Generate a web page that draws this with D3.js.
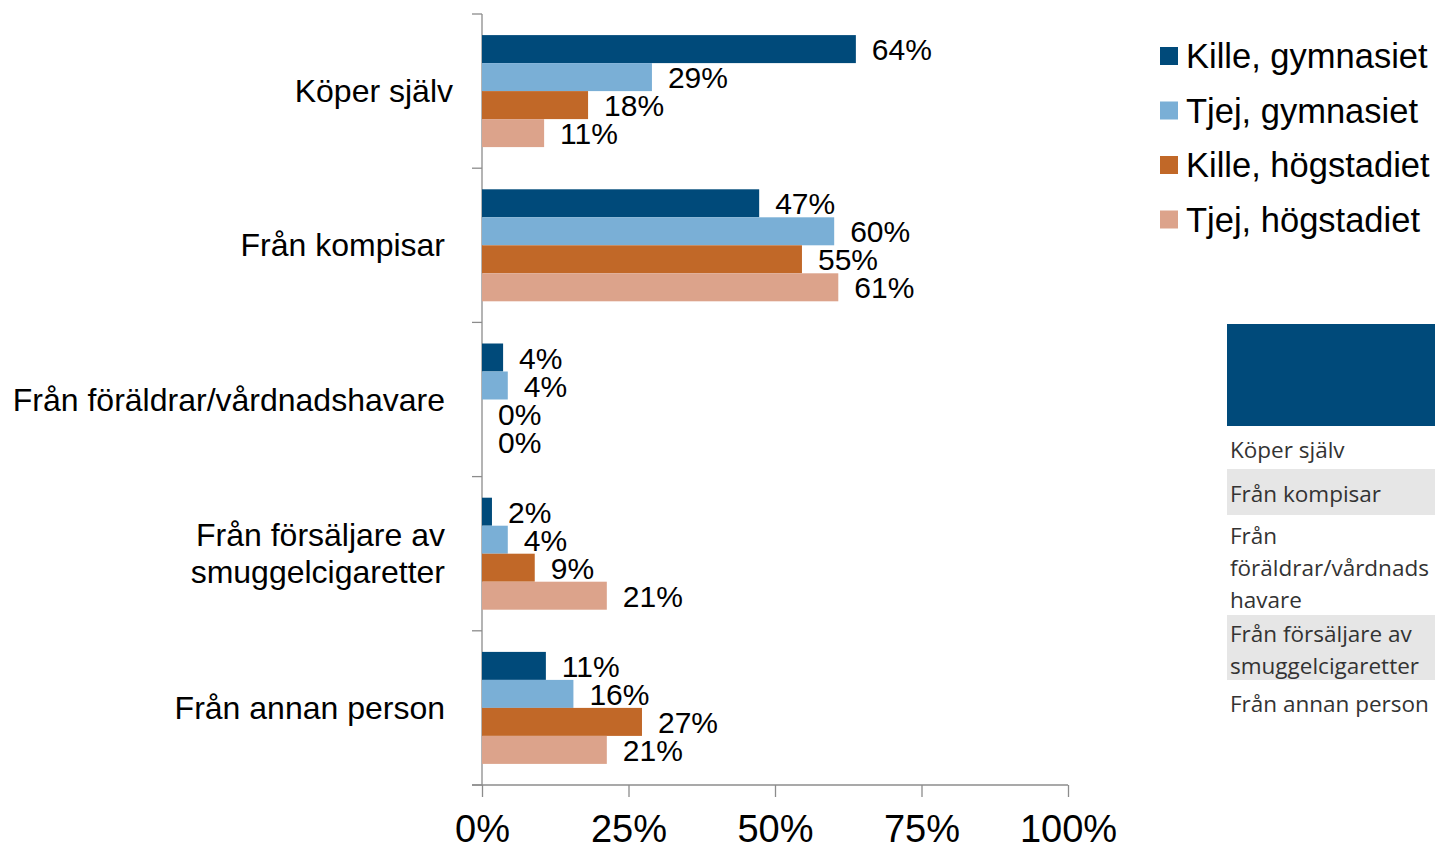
<!DOCTYPE html>
<html>
<head>
<meta charset="utf-8">
<title>Var får man tag på cigaretter</title>
<script src="https://cdn.jsdelivr.net/npm/d3@7"></script>
<style>
  body { margin: 0; background: #fff; }
  svg { display: block; }
  .lbl, .cat, .tick text, .leg { font-family: "Liberation Sans", Arial, sans-serif; fill: #000; }
  .tbl { font-family: "Open Sans", "Noto Sans", sans-serif; fill: #333; font-size: 22.5px; }
</style>
</head>
<body>
<script>
// data
var categories = ["Köper själv", "Från kompisar", "Från föräldrar/vårdnadshavare",
                  "Från försäljare av\nsmuggelcigaretter", "Från annan person"];
var seriesNames = ["Kille, gymnasiet", "Tjej, gymnasiet", "Kille, högstadiet", "Tjej, högstadiet"];
var killeGymnasiet = [63.8, 47.3, 3.6, 1.7, 10.9];
var tjejGymnasiet  = [29.0, 60.1, 4.4, 4.4, 15.6];
var killeHogstadiet = [18.1, 54.6, 0, 9.0, 27.3];
var tjejHogstadiet = [10.6, 60.8, 0, 21.3, 21.3];
var xTicks = [0, 25, 50, 75, 100];
var tableRows = [["Köper själv"], ["Från kompisar"], ["Från", "föräldrar/vårdnads", "havare"],
                 ["Från försäljare av", "smuggelcigaretter"], ["Från annan person"]];

var colors = ["#004a7a", "#7aafd6", "#c16828", "#dca38b"];
var series = [killeGymnasiet, tjejGymnasiet, killeHogstadiet, tjejHogstadiet];

var W = 1435, H = 844;
var svg = d3.select("body").append("svg").attr("width", W).attr("height", H);

var x = d3.scaleLinear().domain([0, 100]).range([482, 1068]);
var y = d3.scaleBand().domain(categories).range([14, 785]);
var inner = d3.scaleBand().domain(d3.range(4)).range([0, 112]);
var barOffset = (y.bandwidth() - 112) / 2;

// axes lines
var axisColor = "#8c8c8c";
svg.append("line").attr("x1", 482).attr("x2", 482).attr("y1", 14).attr("y2", 785)
   .attr("stroke", axisColor).attr("stroke-width", 1.3);
svg.append("line").attr("x1", 472).attr("x2", 1068).attr("y1", 785).attr("y2", 785)
   .attr("stroke", axisColor).attr("stroke-width", 1.3);

// y ticks on category boundaries
var bounds = categories.map(function(c) { return y(c); }).concat([785]);
svg.selectAll(".ytick").data(bounds).enter().append("line")
   .attr("x1", 472).attr("x2", 482)
   .attr("y1", function(d) { return d; }).attr("y2", function(d) { return d; })
   .attr("stroke", axisColor).attr("stroke-width", 1.3);

// x axis
var xAxis = svg.append("g").attr("transform", "translate(0,785)")
   .call(d3.axisBottom(x).tickValues(xTicks).tickSize(12).tickPadding(18)
          .tickFormat(function(d) { return d + "%"; }));
xAxis.select(".domain").remove();
xAxis.selectAll(".tick line").attr("stroke", axisColor).attr("stroke-width", 1.3);
xAxis.selectAll(".tick text").attr("font-size", 38).attr("fill", "#000");

// bars
series.forEach(function(vals, s) {
  var g = svg.append("g");
  g.selectAll("rect").data(vals).enter().append("rect")
    .attr("x", x(0))
    .attr("y", function(d, i) { return y(categories[i]) + barOffset + inner(s); })
    .attr("width", function(d) { return x(d) - x(0); })
    .attr("height", inner.bandwidth())
    .attr("fill", colors[s]);
  g.selectAll("text").data(vals).enter().append("text")
    .attr("class", "lbl")
    .attr("x", function(d) { return x(d) + 16; })
    .attr("y", function(d, i) { return y(categories[i]) + barOffset + inner(s) + inner.bandwidth() / 2 + 11; })
    .attr("font-size", 30)
    .text(function(d) { return Math.round(d) + "%"; });
});

// category labels
categories.forEach(function(c, i) {
  var lines = c.split("\n");
  var cy = y(c) + y.bandwidth() / 2;
  var t = svg.append("text").attr("class", "cat").attr("text-anchor", "end")
    .attr("font-size", 32);
  lines.forEach(function(l, k) {
    t.append("tspan").attr("x", i === 0 ? 453 : 445)
     .attr("y", cy + 11 + (k - (lines.length - 1) / 2) * 37)
     .text(l);
  });
});

// legend
var leg = svg.append("g");
seriesNames.forEach(function(n, i) {
  var ly = 56 + i * 54.5;
  leg.append("rect").attr("x", 1160).attr("y", ly - 9).attr("width", 18).attr("height", 18)
     .attr("fill", colors[i]);
  leg.append("text").attr("class", "leg").attr("x", 1186).attr("y", ly + 12)
     .attr("font-size", 34.5).text(n);
});

// side table
svg.append("rect").attr("x", 1227).attr("y", 324).attr("width", 208).attr("height", 102)
   .attr("fill", "#004a7a");
svg.append("rect").attr("x", 1227).attr("y", 469).attr("width", 208).attr("height", 46)
   .attr("fill", "#e6e6e6");
svg.append("rect").attr("x", 1227).attr("y", 615).attr("width", 208).attr("height", 65)
   .attr("fill", "#e6e6e6");
var rowStart = [450, 494, 536, 634, 704];
tableRows.forEach(function(r, i) {
  r.forEach(function(l, k) {
    svg.append("text").attr("class", "tbl").attr("x", 1230)
       .attr("y", rowStart[i] + k * 32 + 8).text(l);
  });
});
</script>
</body>
</html>
